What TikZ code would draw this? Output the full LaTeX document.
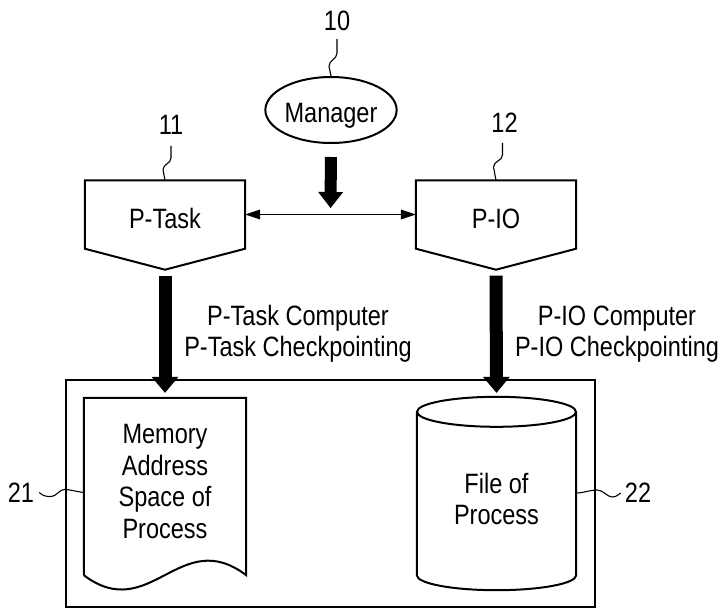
\documentclass[tikz,border=0pt]{standalone}
\usepackage{fontspec}
\setmainfont{Liberation Sans}[FakeStretch=0.84]
\usetikzlibrary{arrows.meta,shapes.geometric,calc}

\begin{document}
\begin{tikzpicture}[x=1pt,y=-1pt,
  every node/.style={font=\fontsize{28}{31.5}\selectfont},
  outline/.style={line width=2pt, line join=miter},
  leader/.style={line width=1.1pt},
  num/.style={inner sep=0pt},
  capbox/.style={text height=20pt, text depth=0pt},
  bigarrow/.style={line width=13pt, -{Triangle[length=16pt,width=27pt,line width=0pt]}},
  thinarrow/.style={line width=1.5pt,
    {Triangle[length=15pt,width=10pt,line width=0pt]}-{Triangle[length=15pt,width=10pt,line width=0pt]}},
]
\useasboundingbox (0,0) rectangle (725,610);

% manager
\node[ellipse, draw, outline, minimum width=122pt, minimum height=66pt, inner sep=0pt, capbox]
  (mgr) at (331,110) {\raisebox{-2pt}{Manager}};
\node[num] (n10) at (337,21) {10};

% process blocks
\node[minimum width=160pt, minimum height=68pt, inner sep=0pt, capbox]
  (ptask) at (165,214.5) {\raisebox{-3.5pt}{P-Task}};
\coordinate (ptasktip) at ([yshift=-21pt]ptask.south);
\draw[outline] (ptask.north west) -- (ptask.north east) -- (ptask.south east)
  -- (ptasktip) -- (ptask.south west) -- cycle;
\node[num] (n11) at (171,125) {11};

\node[minimum width=160pt, minimum height=68pt, inner sep=0pt, capbox]
  (pio) at (496,214.5) {\raisebox{-3.5pt}{P-IO}};
\coordinate (piotip) at ([yshift=-21pt]pio.south);
\draw[outline] (pio.north west) -- (pio.north east) -- (pio.south east)
  -- (piotip) -- (pio.south west) -- cycle;
\node[num] (n12) at (504.5,123) {12};

% link between the blocks, driven by the manager
\draw[thinarrow] (ptask.east) -- (pio.west);
\coordinate (hub) at ($(ptask.east)!0.5!(pio.west)$);
\draw[line width=12pt, -{Triangle[length=16pt,width=25pt,line width=0pt]},
  shorten <=13pt, shorten >=6.5pt] (mgr.south) -- (hub);

% storage frame
\node[draw, outline, minimum width=529pt, minimum height=227pt, inner sep=0pt]
  (store) at (330.5,493.5) {};

% memory document
\node[minimum width=162pt, minimum height=177pt, inner sep=0pt] (mem) at (165,486.5) {};
\draw[outline] (mem.south west) -- (mem.north west) -- (mem.north east) -- (mem.south east)
  .. controls (180,525) and (150,625) .. (mem.south west);
\node[align=center] (memtext) at ([yshift=5pt]mem.center) {Memory\\Address\\Space of\\Process};
\node[num] (n21) at (21,492.5) {21};

% file cylinder
\node[minimum width=159pt, minimum height=193pt, inner sep=0pt] (file) at (496.5,493.5) {};
\draw[outline] ([yshift=-15pt]file.north) ellipse [x radius=79.5, y radius=15];
\draw[outline] ([yshift=-15pt]file.north west) -- ([yshift=15pt]file.south west)
  .. controls +(0,8.3) and +(-43.9,0) .. (file.south)
  .. controls +(43.9,0) and +(0,8.3) .. ([yshift=15pt]file.south east)
  -- ([yshift=-15pt]file.north east);
\node[align=center] (filetext) at ([yshift=-5.5pt]file.center) {File of\\Process};
\node[num] (n22) at (638,493) {22};

% checkpoint flows
\draw[bigarrow, shorten <=6pt, shorten >=5pt] (ptasktip) -- (mem.north);
\draw[bigarrow, shorten <=6pt, shorten >=4pt] (piotip) -- (file.north);
\node[align=center] (ptasklbl) at (298,334) {P-Task Computer\\P-Task Checkpointing};
\node[align=center] (piolbl) at (617,334) {P-IO Computer\\P-IO Checkpointing};

% reference numeral leaders
\draw[leader] ([yshift=-8pt]n10.south) -- ++(0,14)
  .. controls +(0,6) and +(0,-6) .. ++(-8,13) -- (mgr.north);
\draw[leader] ([yshift=-11pt]n11.south) -- ++(0,12)
  .. controls +(0,6) and +(0,-6) .. ++(-8,12) -- (ptask.north);
\draw[leader] ([xshift=-2pt,yshift=-10pt]n12.south) -- ++(0,12)
  .. controls +(0,6) and +(0,-6) .. ++(-9,12) -- (pio.north);
\draw[leader] ([xshift=5pt]n21.east)
  .. controls +(4,4) and +(-4,0) .. ++(12,4)
  .. controls +(5,0) and +(-5,0) .. ++(13,-7)
  .. controls +(6,0) and +(-8,-1) .. (mem.west |- n21.east);
\draw[leader] (file.east |- n22.west)
  .. controls +(8,0) and +(-8,0) .. ++(21,-3)
  .. controls +(6,0) and +(-5,0) .. ++(15,7)
  .. controls +(4,0) and +(-3,2) .. ([xshift=-4pt]n22.west);
\end{tikzpicture}
\end{document}
